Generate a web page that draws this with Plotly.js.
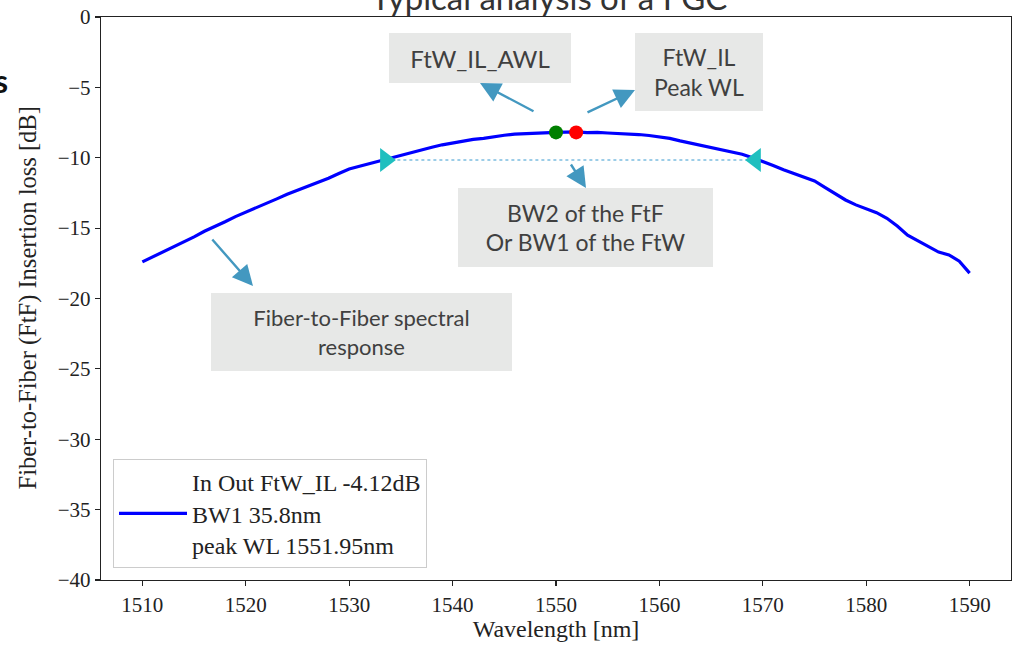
<!DOCTYPE html>
<html>
<head>
<meta charset="utf-8">
<script src="https://cdn.plot.ly/plotly-3.0.1.min.js"></script>
<style>html,body{margin:0;padding:0;background:#fff;}#chart{width:1013px;height:647px;}</style>
</head>
<body>
<div id="chart"></div>
<script>
// ---- data ----
const wavelength = [1510,1511,1512,1513,1514,1515,1516,1517,1518,1519,1520,1521,1522,1523,1524,1525,1526,1527,1528,1529,
  1530,1531,1532,1533,1534,1535,1536,1537,1538,1539,1540,1541,1542,1543,1544,1545,1546,1547,1548,1549,
  1550,1551,1552,1553,1554,1555,1556,1557,1558,1559,1560,1561,1562,1563,1564,1565,1566,1567,1568,1569,
  1570,1571,1572,1573,1574,1575,1576,1577,1578,1579,1580,1581,1582,1583,1584,1585,1586,1587,1588,1589,1590];
const insertionLoss = [-17.40,-17.05,-16.72,-16.38,-16.02,-15.62,-15.22,-14.90,-14.55,-14.18,
  -13.85,-13.55,-13.20,-12.92,-12.60,-12.32,-12.02,-11.76,-11.46,-11.12,
  -10.80,-10.60,-10.40,-10.22,-10.02,-9.82,-9.62,-9.45,-9.25,-9.08,
  -8.95,-8.82,-8.70,-8.62,-8.50,-8.40,-8.32,-8.28,-8.25,-8.22,
  -8.20,-8.18,-8.16,-8.22,-8.20,-8.24,-8.26,-8.30,-8.35,-8.42,
  -8.50,-8.62,-8.80,-8.95,-9.10,-9.30,-9.45,-9.60,-9.75,-10.00,
  -10.25,-10.55,-10.85,-11.10,-11.40,-11.65,-12.10,-12.55,-13.00,-13.35,
  -13.60,-13.90,-14.30,-14.85,-15.50,-15.90,-16.30,-16.70,-16.90,-17.35,-18.20];
const awlPoint = {x: [1550.0], y: [-8.2]};
const peakPoint = {x: [1551.95], y: [-8.2]};
const bwLeft = {x: [1533.5], y: [-10.16]};
const bwRight = {x: [1569.3], y: [-10.16]};
const xTicks = [1510,1520,1530,1540,1550,1560,1570,1580,1590];
const yTicks = [0,-5,-10,-15,-20,-25,-30,-35,-40];
const legendName = "In Out FtW_IL -4.12dB<br>BW1 35.8nm<br>peak WL 1551.95nm";

// ---- geometry helpers (pixel -> paper) ----
const L = 101, R = 1011, T = 17, B = 580;
const px = p => (p - L) / (R - L);
const py = p => (B - p) / (B - T);

const serif = "Liberation Serif";
const sans = "Lato";
const arrowColor = "#4398c0";
const boxColor = "#e7e8e7";
const boxText = "#404040";

const traces = [
  {x: wavelength, y: insertionLoss, type: "scatter", mode: "lines", name: legendName,
   line: {color: "#0000ff", width: 3.2}, showlegend: true},
  {x: [bwLeft.x[0], bwRight.x[0]], y: [bwLeft.y[0], bwRight.y[0]], type: "scatter", mode: "lines",
   line: {color: "#3b9bd0", width: 1, dash: "dot"}, showlegend: false},
  {x: bwLeft.x, y: bwLeft.y, type: "scatter", mode: "markers",
   marker: {symbol: "triangle-right", size: 21, color: "#1fbfbf"}, showlegend: false},
  {x: bwRight.x, y: bwRight.y, type: "scatter", mode: "markers",
   marker: {symbol: "triangle-left", size: 21, color: "#1fbfbf"}, showlegend: false},
  {x: awlPoint.x, y: awlPoint.y, type: "scatter", mode: "markers",
   marker: {symbol: "circle", size: 14, color: "#008000"}, showlegend: false},
  {x: peakPoint.x, y: peakPoint.y, type: "scatter", mode: "markers",
   marker: {symbol: "circle", size: 14, color: "#ff0000"}, showlegend: false}
];

function box(cx, cy, w, h, text, size) {
  return {xref: "paper", yref: "paper", x: px(cx), y: py(cy), xanchor: "center", yanchor: "middle",
    text: text, showarrow: false, width: w, height: h, bgcolor: boxColor, borderpad: 0, borderwidth: 0,
    font: {family: sans, size: size, color: boxText}, align: "center", valign: "middle"};
}
function arrow(tailX, tailY, tipX, tipY) {
  return {xref: "paper", yref: "paper", x: px(tipX), y: py(tipY), ax: tailX - tipX, ay: tailY - tipY,
    text: "", showarrow: true, arrowhead: 2, arrowsize: 1.7, arrowwidth: 2.4, arrowcolor: arrowColor, standoff: 0};
}

const annotations = [
  box(480, 58, 182, 50, "FtW_IL_AWL", 24),
  box(699, 72, 128, 78, "FtW_IL<br>Peak WL", 23),
  box(585.5, 227.5, 255, 79, "BW2 of the FtF<br>Or BW1 of the FtW", 23),
  box(361.5, 332, 301, 78, "Fiber-to-Fiber spectral<br>response", 22),
  arrow(535, 112, 480, 83),
  arrow(586, 113, 635, 90),
  arrow(570, 163, 586, 188),
  arrow(211, 238, 253, 286),
  {xref: "paper", yref: "paper", x: px(549), y: py(-3), xanchor: "center", yanchor: "middle",
   text: "Typical analysis of a FGC", showarrow: false, font: {family: sans, size: 33, color: "#333333"}},
  {xref: "paper", yref: "paper", x: px(10), y: py(80), xanchor: "right", yanchor: "middle",
   text: "<b>s</b>", showarrow: false, font: {family: sans, size: 32, color: "#111111"}},
  {xref: "paper", yref: "paper", x: px(27), y: py(298.5), xanchor: "center", yanchor: "middle", textangle: -90,
   text: "Fiber-to-Fiber (FtF) Insertion loss [dB]", showarrow: false,
   font: {family: serif, size: 24.5, color: "#222222"}}
];

const layout = {
  width: 1013, height: 647,
  margin: {l: L, r: 1013 - R, t: T, b: 647 - B, pad: 0},
  paper_bgcolor: "#ffffff", plot_bgcolor: "#ffffff",
  font: {family: serif, size: 21, color: "#222222"},
  xaxis: {range: [1506, 1594], tickmode: "array", tickvals: xTicks, ticks: "outside", ticklen: 5, tickwidth: 1.2,
    tickcolor: "#222", showline: true, mirror: true, linecolor: "#222", linewidth: 1.3, showgrid: false, zeroline: false,
    tickfont: {family: serif, size: 21, color: "#222"},
    title: {text: "Wavelength [nm]", font: {family: serif, size: 24, color: "#222"}, standoff: 4}},
  yaxis: {range: [-40, 0], tickmode: "array", tickvals: yTicks, ticks: "outside", ticklen: 5, tickwidth: 1.2,
    tickcolor: "#222", showline: true, mirror: true, linecolor: "#222", linewidth: 1.3, showgrid: false, zeroline: false,
    tickfont: {family: serif, size: 21, color: "#222"}},
  legend: {x: px(113), y: py(568), xanchor: "left", yanchor: "bottom", bgcolor: "rgba(255,255,255,0.85)",
    bordercolor: "#cccccc", borderwidth: 1, itemwidth: 68, font: {family: serif, size: 24, color: "#222"}},
  annotations: annotations,
  showlegend: true
};

Plotly.newPlot("chart", traces, layout, {displayModeBar: false, staticPlot: true});
</script>
</body>
</html>
